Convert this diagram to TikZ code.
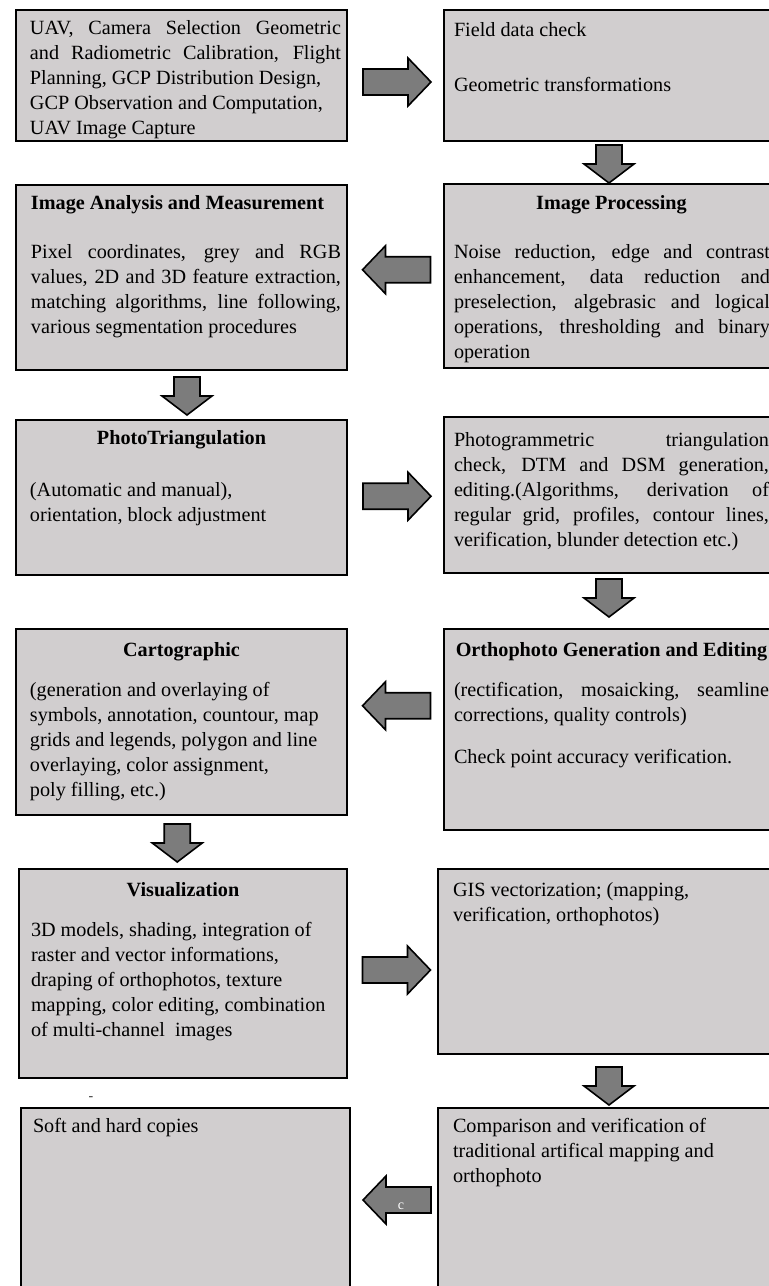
\documentclass[tikz,border=0pt]{standalone}
\usepackage{fontspec}
\setmainfont{Liberation Serif}
\usetikzlibrary{positioning,calc}

\definecolor{boxgrey}{RGB}{209,206,207}
\definecolor{arrowgrey}{RGB}{124,124,124}
\newlength{\px}\setlength{\px}{0.5pt}
\newcommand{\cellbox}[3]{\begin{minipage}[t][#2\px][t]{#1\px}\hfuzz=8pt\hbadness=10000\tolerance=10000#3\end{minipage}}
\newcommand{\jtext}[2]{\leftskip=#1\px\rightskip=#2\px\parfillskip=0pt plus 1fil\relax}
\newcommand{\rtext}[1]{\leftskip=#1\px\rightskip=0pt plus 1fil\relax}

\begin{document}
\begin{tikzpicture}[x=0.5pt,y=-0.5pt]
    \tikzset{procbox/.style={draw=black,line width=1pt,fill=boxgrey,anchor=north west,inner sep=0pt,font=\fontsize{10.1}{12.5}\selectfont},
      blockarr/.style={draw=black,line width=0.8pt,fill=arrowgrey},
      rblock/.pic={\draw[blockarr] (-34,-13) -- (11,-13) -- (11,-24) -- (34,0) -- (11,24) -- (11,13) -- (-34,13) -- cycle;},
      dblock/.pic={\draw[blockarr] (-13,-19) -- (13,-19) -- (13,0) -- (25,0) -- (0,19) -- (-25,0) -- (-13,0) -- cycle;}}
    \fill[white] (0,0) rectangle (768,1286);
    \useasboundingbox (0,0) rectangle (768,1286);

    % row 1
    \node[procbox] (b1) at (15,9) {\cellbox{331}{131}{\jtext{14}{6}\rule{0pt}{12pt}UAV, Camera Selection Geometric\linebreak and Radiometric Calibration, Flight\linebreak Planning, GCP Distribution Design,\\GCP Observation and Computation,\\UAV Image Capture\par}};
    \node[procbox] (b2) at (443,9) {\cellbox{335}{131}{\rtext{10}\rule{0pt}{13pt}Field data check\\[15pt]Geometric transformations\par}};

    % row 2
    \node[procbox] (b3) at (15,184) {\cellbox{331}{185}{\jtext{15}{6}{\bfseries\rule{0pt}{12pt}Image Analysis and Measurement\par}\vspace{12pt}Pixel coordinates, grey and RGB\linebreak values, 2D and 3D feature extraction,\linebreak matching algorithms, line following,\linebreak various segmentation procedures\par}};
    \node[procbox] (b4) at (443,183) {\cellbox{335}{184}{{\centering\bfseries\rule{0pt}{12.5pt}Image Processing\par}\vspace{12pt}\jtext{10}{9}Noise reduction, edge and contrast\linebreak enhancement, data reduction and\linebreak preselection, algebrasic and logical\linebreak operations, thresholding and binary\linebreak operation\par}};

    % row 3
    \node[procbox] (b5) at (15,419) {\cellbox{331}{155}{{\centering\bfseries\rule{0pt}{12pt}PhotoTriangulation\par}\vspace{13.5pt}\rtext{14}(Automatic and manual),\\orientation, block adjustment\par}};
    \node[procbox] (b6) at (443,416) {\cellbox{335}{156}{\jtext{10}{10}\rule{0pt}{14.5pt}Photogrammetric triangulation\linebreak check, DTM and DSM generation,\linebreak editing.(Algorithms, derivation of\linebreak regular grid, profiles, contour lines,\linebreak verification, blunder detection etc.)\par}};

    % row 4
    \node[procbox] (b7) at (15,628) {\cellbox{331}{186}{{\centering\bfseries\rule{0pt}{13.5pt}Cartographic\par}\vspace{7.5pt}\rtext{14}(generation and overlaying of\\symbols, annotation, countour, map\\grids and legends, polygon and line\\overlaying, color assignment,\\poly filling, etc.)\par}};
    \node[procbox] (b8) at (443,628) {\cellbox{335}{201}{{\centering\bfseries\rule{0pt}{13.5pt}Orthophoto Generation and Editing\par}\vspace{7.5pt}\jtext{10}{10}(rectification, mosaicking, seamline\linebreak corrections, quality controls)\par\vspace{8.5pt}Check point accuracy verification.\par}};

    % row 5
    \node[procbox] (b9) at (18,868) {\cellbox{328}{209}{{\centering\bfseries\rule{0pt}{13.5pt}Visualization\par}\vspace{7.5pt}\rtext{12}3D models, shading, integration of\\raster and vector informations,\\draping of orthophotos, texture\\mapping, color editing, combination\\of multi-channel\ \ images\par}};
    \node[procbox] (b10) at (437,868) {\cellbox{341}{185}{\rtext{15}\rule{0pt}{13.5pt}GIS vectorization; (mapping,\\verification, orthophotos)\par}};

    % row 6
    \node[procbox] (b11) at (20,1107) {\cellbox{329}{200}{\rtext{12}\rule{0pt}{12pt}Soft and hard copies\par}};
    \node[procbox] (b12) at (437,1107) {\cellbox{341}{200}{\rtext{15}\rule{0pt}{12pt}Comparison and verification of\\traditional artifical mapping and\\orthophoto\par}};
    \node[font=\scriptsize,text=black!80] (dash) at (91,1099) {-};

    % block arrows between the boxes
    \pic at ($(b1.east)!.5!(b2.west)+(1.5,6.5)$) {rblock};
    \pic at ($(b2.south)!.5!(b4.north)+(-2.5,1.5)$) {dblock};
    \pic[rotate=180] at ($(b3.east)!.5!(b4.west)+(1,-7)$) {rblock};
    \pic at ($(b3.south)!.5!(b5.north)+(5.5,1)$) {dblock};
    \pic at ($(b5.east)!.5!(b6.west)+(1.5,0)$) {rblock};
    \pic at ($(b6.south)!.5!(b8.north)+(-2.5,-3)$) {dblock};
    \pic[rotate=180] at ($(b7.east)!.5!(b8.west)+(1,-20)$) {rblock};
    \pic at ($(b7.south)!.5!(b9.north)+(-5,1)$) {dblock};
    \pic at ($(b9.east)!.5!(b10.west)+(4,2.5)$) {rblock};
    \pic at ($(b10.south)!.5!(b12.north)+(0.5,5)$) {dblock};
    \pic[rotate=180] at ($(b11.east)!.5!(b12.west)+(3,-8)$) {rblock};
    \node[font=\scriptsize,text=white] (cmark) at (401,1206) {c};
\end{tikzpicture}
\end{document}
